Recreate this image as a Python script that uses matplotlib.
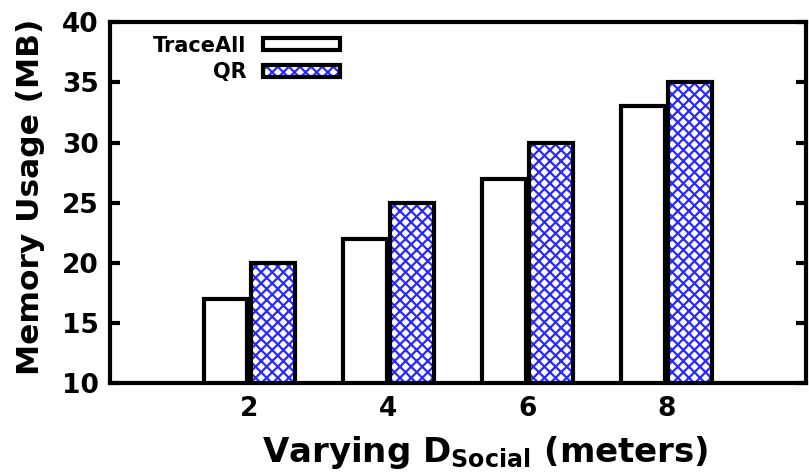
import matplotlib
matplotlib.use("Agg")
import matplotlib.pyplot as plt
import matplotlib.patches as mpatches
from matplotlib.legend_handler import HandlerTuple
import numpy as np

plt.rcParams['font.family'] = ['DejaVu Sans']
plt.rcParams['font.weight'] = 'bold'
plt.rcParams['mathtext.default'] = 'bf'
plt.rcParams['hatch.linewidth'] = 1.6

# data
distances = [2, 4, 6, 8]
traceall = [17, 22, 27, 33]
qr = [20, 25, 30, 35]

fig = plt.figure(figsize=(8.09, 4.73), dpi=100)
ax = fig.add_axes([0.136, 0.19, 0.860, 0.763])

x = np.array(distances, dtype=float)
w = 0.63
off = 0.34

ax.bar(x - off, traceall, width=w, color='white', edgecolor='black', linewidth=3, zorder=2)
ax.bar(x + off, qr, width=w, color='white', edgecolor='#2a2aff', hatch='xxx', linewidth=0, zorder=2)
ax.bar(x + off, qr, width=w, color='none', edgecolor='black', linewidth=3, zorder=3)

ax.set_xlim(0, 10)
ax.set_ylim(10, 40)
ax.set_xticks(distances)
ax.set_yticks(range(10, 41, 5))
ax.tick_params(direction='in', length=7, width=3, labelsize=19,
               top=False, right=True)
ax.tick_params(axis='x', pad=9)
ax.tick_params(axis='y', pad=8)
for lab in ax.get_xticklabels() + ax.get_yticklabels():
    lab.set_fontweight('bold')
for s in ax.spines.values():
    s.set_linewidth(3)

ax.set_ylabel('Memory Usage (MB)', fontsize=22.5, fontweight='bold')
ax.yaxis.set_label_coords(-0.094, 0.515)
ax.set_xlabel('Varying D$_{Social}$ (meters)', fontsize=24.5, fontweight='bold')
ax.xaxis.set_label_coords(0.54, -0.14)

# legend (gnuplot style: text then sample box)
h1 = mpatches.Patch(facecolor='white', edgecolor='black', linewidth=3)
h2a = mpatches.Patch(facecolor='white', edgecolor='#2a2aff', hatch='xxx', linewidth=0)
h2b = mpatches.Patch(facecolor='none', edgecolor='black', linewidth=3)
leg = ax.legend([h1, (h2a, h2b)], ['TraceAll', 'QR'],
                handler_map={tuple: HandlerTuple(ndivide=1, pad=0)},
                loc='upper left', bbox_to_anchor=(0.035, 1.015), frameon=False,
                markerfirst=False, handlelength=3.7, handleheight=0.55,
                handletextpad=0.8, labelspacing=0.32,
                prop={'weight': 'bold', 'size': 15})
for t in leg.get_texts():
    t.set_ha('right')
leg._legend_box.align = 'right'

fig.savefig('out.png', dpi=100)
